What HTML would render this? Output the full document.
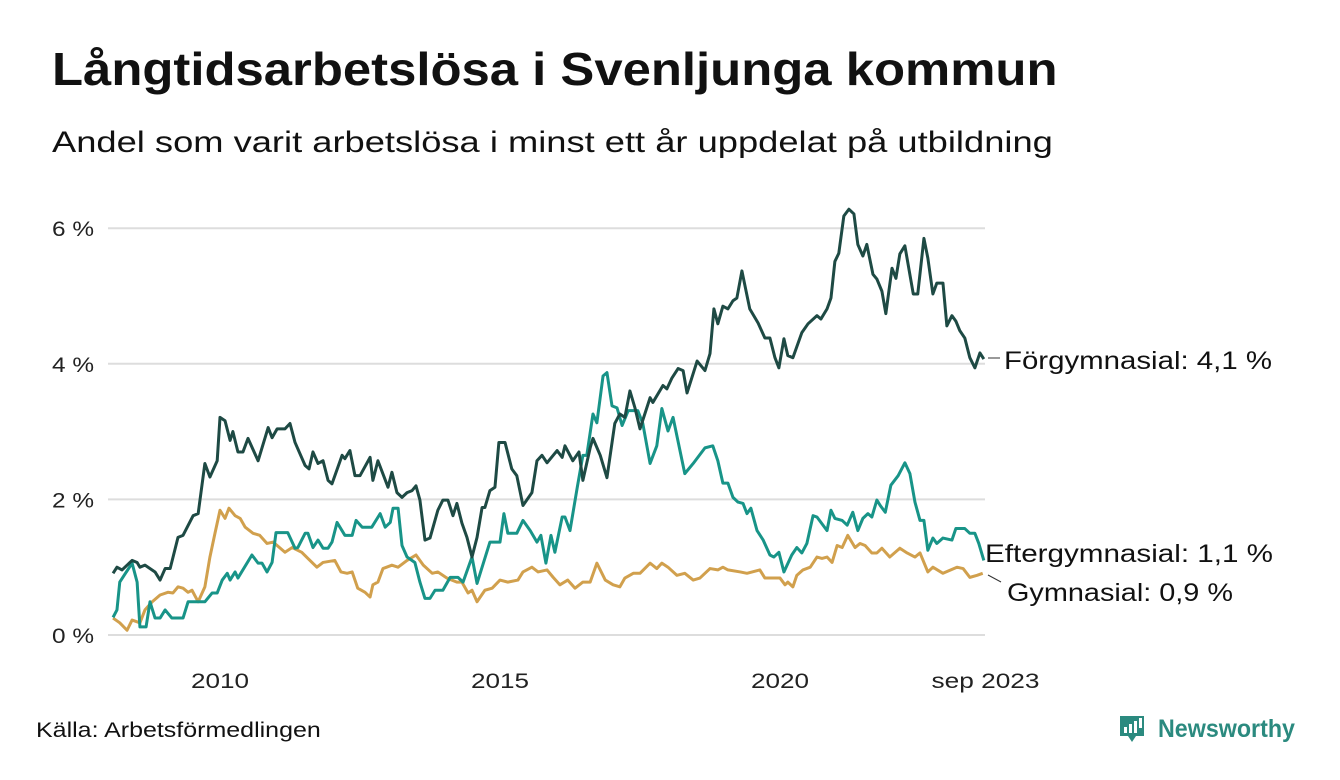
<!DOCTYPE html>
<html><head><meta charset="utf-8"><style>
body{margin:0;background:#fff;width:1340px;height:780px;overflow:hidden;font-family:"Liberation Sans",sans-serif;}
#title{position:absolute;left:52px;top:42px;font-size:46px;font-weight:bold;color:#111;margin:0;transform:scaleX(1.105);transform-origin:left top;white-space:nowrap}
#sub{position:absolute;left:52px;top:126px;font-size:30px;color:#111;transform:scaleX(1.21);transform-origin:left top;white-space:nowrap}
#src{position:absolute;left:36px;top:719px;font-size:21px;color:#111;transform:scaleX(1.19);transform-origin:left top;white-space:nowrap}
#logo{position:absolute;left:1118px;top:712px;}
svg text{font-family:"Liberation Sans",sans-serif;}
</style></head><body>
<h1 id="title">Långtidsarbetslösa i Svenljunga kommun</h1>
<div id="sub">Andel som varit arbetslösa i minst ett år uppdelat på utbildning</div>
<div id="src">Källa: Arbetsförmedlingen</div>
<div id="logo">
<svg width="190" height="40"><path d="M2 4h24v20h-8l-4 6-4-6h-8z" fill="#2b8a7f"/><rect x="6" y="15" width="3" height="6" fill="#fff"/><rect x="11" y="12" width="3" height="9" fill="#fff"/><rect x="16" y="9" width="3" height="12" fill="#fff"/><rect x="21" y="6" width="3" height="10" fill="#fff"/><text x="40" y="25" font-size="25" font-weight="bold" fill="#2b8a7f" textLength="137" lengthAdjust="spacingAndGlyphs">Newsworthy</text></svg>
</div>
<svg id="chart" width="1340" height="780" style="position:absolute;left:0;top:0"></svg>
<script>
const yTicks=[0,2,4,6];
const yTickLabels=["0 %","2 %","4 %","6 %"];
const xTicks=[2010,2015,2020,2023.67];
const xTickLabels=["2010","2015","2020","sep 2023"];
const forDates=[2008.09,2008.16,2008.25,2008.43,2008.52,2008.57,2008.66,2008.84,2008.93,2009.02,2009.11,2009.25,2009.34,2009.52,2009.61,2009.73,2009.82,2009.95,2010.0,2010.09,2010.18,2010.23,2010.32,2010.41,2010.5,2010.68,2010.86,2010.93,2011.02,2011.16,2011.25,2011.34,2011.52,2011.59,2011.66,2011.75,2011.84,2011.93,2012.0,2012.18,2012.23,2012.32,2012.41,2012.5,2012.68,2012.73,2012.82,2013.0,2013.07,2013.16,2013.25,2013.34,2013.43,2013.5,2013.57,2013.66,2013.75,2013.89,2013.98,2014.07,2014.16,2014.23,2014.32,2014.41,2014.5,2014.59,2014.68,2014.73,2014.82,2014.91,2014.98,2015.09,2015.21,2015.3,2015.41,2015.57,2015.66,2015.75,2015.84,2016.02,2016.11,2016.16,2016.3,2016.41,2016.48,2016.61,2016.66,2016.79,2016.91,2017.05,2017.14,2017.23,2017.32,2017.41,2017.5,2017.68,2017.73,2017.91,2017.98,2018.07,2018.18,2018.27,2018.34,2018.52,2018.66,2018.75,2018.82,2018.89,2018.98,2019.07,2019.16,2019.23,2019.32,2019.46,2019.61,2019.73,2019.82,2019.91,2019.98,2020.07,2020.14,2020.23,2020.39,2020.5,2020.66,2020.73,2020.84,2020.91,2020.98,2021.05,2021.14,2021.23,2021.32,2021.39,2021.48,2021.55,2021.66,2021.73,2021.82,2021.89,2022.0,2022.07,2022.14,2022.23,2022.38,2022.46,2022.57,2022.64,2022.73,2022.8,2022.91,2022.98,2023.07,2023.14,2023.21,2023.3,2023.39,2023.48,2023.57,2023.64];
const forValues=[0.91,1.0,0.96,1.1,1.07,1.0,1.03,0.93,0.81,0.98,0.98,1.44,1.47,1.76,1.79,2.53,2.33,2.57,3.21,3.16,2.87,3.0,2.7,2.7,2.9,2.57,3.06,2.91,3.04,3.04,3.12,2.84,2.5,2.45,2.7,2.53,2.57,2.28,2.23,2.65,2.6,2.72,2.35,2.35,2.62,2.28,2.57,2.18,2.4,2.1,2.03,2.1,2.13,2.2,1.99,1.4,1.43,1.84,1.99,1.99,1.76,1.94,1.65,1.44,1.15,1.44,1.88,1.88,2.13,2.18,2.84,2.84,2.45,2.35,1.91,2.1,2.57,2.65,2.54,2.72,2.62,2.79,2.57,2.7,2.28,2.76,2.9,2.65,2.32,3.12,3.26,3.21,3.6,3.35,3.04,3.5,3.43,3.68,3.63,3.79,3.93,3.9,3.57,4.04,3.9,4.15,4.81,4.59,4.85,4.81,4.93,4.97,5.37,4.81,4.6,4.38,4.38,4.09,3.94,4.37,4.12,4.09,4.46,4.59,4.71,4.66,4.81,4.97,5.51,5.63,6.18,6.28,6.21,5.76,5.59,5.76,5.32,5.25,5.07,4.74,5.41,5.26,5.62,5.74,5.03,5.03,5.85,5.56,5.03,5.19,5.19,4.56,4.71,4.63,4.49,4.38,4.09,3.94,4.16,4.07];
const eftDates=[2008.09,2008.16,2008.21,2008.43,2008.52,2008.57,2008.68,2008.75,2008.84,2008.93,2009.02,2009.14,2009.34,2009.43,2009.73,2009.86,2009.95,2010.04,2010.13,2010.18,2010.27,2010.32,2010.57,2010.68,2010.75,2010.84,2010.93,2011.0,2011.21,2011.34,2011.39,2011.52,2011.57,2011.66,2011.75,2011.84,2011.93,2012.0,2012.09,2012.23,2012.36,2012.43,2012.54,2012.71,2012.86,2012.95,2013.04,2013.09,2013.18,2013.25,2013.34,2013.48,2013.57,2013.66,2013.75,2013.84,2013.98,2014.11,2014.25,2014.34,2014.5,2014.59,2014.82,2015.0,2015.07,2015.14,2015.3,2015.41,2015.54,2015.66,2015.73,2015.82,2015.91,2015.98,2016.11,2016.16,2016.25,2016.38,2016.48,2016.55,2016.66,2016.73,2016.84,2016.91,2017.0,2017.09,2017.18,2017.29,2017.46,2017.55,2017.68,2017.8,2017.89,2018.0,2018.09,2018.3,2018.45,2018.66,2018.8,2018.89,2018.98,2019.07,2019.16,2019.25,2019.34,2019.41,2019.48,2019.59,2019.7,2019.82,2019.89,2019.98,2020.07,2020.21,2020.3,2020.39,2020.48,2020.59,2020.66,2020.84,2020.91,2020.98,2021.11,2021.2,2021.3,2021.39,2021.48,2021.57,2021.64,2021.73,2021.79,2021.88,2021.98,2022.11,2022.23,2022.32,2022.41,2022.5,2022.57,2022.64,2022.73,2022.8,2022.91,2023.07,2023.14,2023.3,2023.39,2023.48,2023.55,2023.64];
const eftValues=[0.26,0.37,0.78,1.06,0.78,0.12,0.12,0.49,0.25,0.25,0.37,0.25,0.25,0.49,0.49,0.62,0.62,0.81,0.91,0.81,0.93,0.84,1.18,1.06,1.06,0.93,1.07,1.51,1.51,1.28,1.29,1.5,1.5,1.29,1.4,1.28,1.28,1.37,1.66,1.47,1.47,1.69,1.59,1.59,1.79,1.59,1.66,1.87,1.87,1.32,1.15,1.07,0.78,0.54,0.54,0.66,0.66,0.85,0.85,0.78,1.15,0.76,1.37,1.37,1.79,1.5,1.5,1.69,1.54,1.37,1.47,1.06,1.47,1.22,1.74,1.74,1.54,2.18,2.65,2.65,3.26,3.13,3.82,3.87,3.38,3.35,3.09,3.31,3.31,3.12,2.53,2.79,3.34,3.01,3.21,2.38,2.53,2.76,2.79,2.57,2.24,2.24,2.03,1.96,1.94,1.79,1.87,1.54,1.4,1.18,1.15,1.22,0.93,1.18,1.29,1.21,1.35,1.76,1.74,1.54,1.84,1.72,1.69,1.62,1.81,1.54,1.72,1.79,1.74,1.99,1.91,1.81,2.21,2.35,2.54,2.38,1.96,1.69,1.69,1.25,1.43,1.35,1.43,1.4,1.57,1.57,1.5,1.5,1.35,1.1];
const gymDates=[2008.09,2008.21,2008.34,2008.43,2008.57,2008.66,2008.79,2008.93,2009.07,2009.16,2009.25,2009.34,2009.43,2009.5,2009.61,2009.73,2009.82,2009.91,2010.0,2010.09,2010.16,2010.27,2010.36,2010.45,2010.59,2010.71,2010.84,2010.95,2011.16,2011.29,2011.46,2011.57,2011.73,2011.84,2012.05,2012.16,2012.27,2012.36,2012.46,2012.59,2012.68,2012.73,2012.82,2012.91,2013.07,2013.18,2013.34,2013.5,2013.63,2013.79,2013.89,2014.05,2014.23,2014.32,2014.43,2014.5,2014.59,2014.73,2014.86,2015.0,2015.14,2015.32,2015.41,2015.57,2015.68,2015.84,2015.95,2016.07,2016.21,2016.34,2016.48,2016.61,2016.73,2016.88,2017.02,2017.14,2017.23,2017.38,2017.5,2017.68,2017.8,2017.89,2018.0,2018.16,2018.3,2018.45,2018.57,2018.75,2018.89,2018.98,2019.07,2019.29,2019.41,2019.64,2019.73,2020.0,2020.09,2020.14,2020.23,2020.3,2020.41,2020.54,2020.66,2020.75,2020.84,2020.93,2021.02,2021.11,2021.21,2021.34,2021.43,2021.52,2021.64,2021.73,2021.82,2021.96,2022.14,2022.27,2022.41,2022.5,2022.64,2022.73,2022.91,2023.16,2023.27,2023.39,2023.52,2023.62];
const gymValues=[0.25,0.18,0.07,0.22,0.18,0.37,0.49,0.59,0.63,0.62,0.71,0.69,0.63,0.66,0.49,0.71,1.15,1.5,1.84,1.72,1.87,1.76,1.72,1.59,1.5,1.47,1.35,1.37,1.22,1.29,1.22,1.13,1.0,1.07,1.1,0.93,0.91,0.93,0.69,0.63,0.56,0.74,0.78,0.98,1.03,1.0,1.1,1.18,1.03,0.91,0.93,0.84,0.78,0.78,0.62,0.66,0.49,0.66,0.69,0.81,0.78,0.81,0.93,1.0,0.93,0.96,0.85,0.74,0.81,0.69,0.78,0.78,1.06,0.81,0.74,0.71,0.84,0.91,0.91,1.06,0.98,1.06,1.0,0.88,0.91,0.81,0.84,0.98,0.96,1.0,0.96,0.93,0.91,0.96,0.84,0.84,0.74,0.78,0.71,0.88,0.96,1.0,1.15,1.13,1.15,1.07,1.32,1.29,1.47,1.29,1.35,1.32,1.21,1.21,1.28,1.15,1.28,1.21,1.15,1.21,0.93,1.0,0.91,1.0,0.98,0.85,0.88,0.91];

const NS="http://www.w3.org/2000/svg";
const svg=document.getElementById('chart');
const x=y=>220+(y-2010)*56;
const yS=v=>635-v*67.8;
function mk(tag,attrs){const e=document.createElementNS(NS,tag);for(const k in attrs)e.setAttribute(k,attrs[k]);svg.appendChild(e);return e;}
yTicks.forEach((t,i)=>{
  const g=mk('line',{x1:108,x2:985,y1:yS(t),y2:yS(t),stroke:'#dddddd','stroke-width':2});
  
  
  const l=mk('text',{x:94,y:yS(t)+8,'text-anchor':'end','font-size':21,fill:'#222',textLength:42,lengthAdjust:'spacingAndGlyphs'});
  l.textContent=yTickLabels[i];
  
  
});
xTicks.forEach((t,i)=>{
  const l=mk('text',{x:x(t),y:688,'text-anchor':'middle','font-size':21,fill:'#222',textLength:xTickLabels[i].length>4?108:58,lengthAdjust:'spacingAndGlyphs'});
  l.textContent=xTickLabels[i];
  
  
});
function line(d,v,c,name){
  const p=mk('polyline',{points:d.map((t,i)=>x(t)+','+yS(v[i])).join(' '),fill:'none',stroke:c,'stroke-width':3,'stroke-linejoin':'round'});
  
  
}
line(gymDates,gymValues,'#d1a04d','series-gymnasial');
line(eftDates,eftValues,'#189488','series-eftergymnasial');
line(forDates,forValues,'#1e4a44','series-forgymnasial');
function lab(t,xx,yy,w,name){const e=mk('text',{x:xx,y:yy,'font-size':25,fill:'#111',textLength:w,lengthAdjust:'spacingAndGlyphs'});e.textContent=t;
  
  }
mk('line',{x1:988,x2:1000,y1:358,y2:358,stroke:'#333','stroke-width':1});
lab('Förgymnasial: 4,1 %',1004,369,268,'label-forgymnasial');
lab('Eftergymnasial: 1,1 %',985,562,288,'label-eftergymnasial');
mk('line',{x1:988,y1:575,x2:1001,y2:582,stroke:'#333','stroke-width':1});
lab('Gymnasial: 0,9 %',1007,601,226,'label-gymnasial');
</script>
</body></html>
